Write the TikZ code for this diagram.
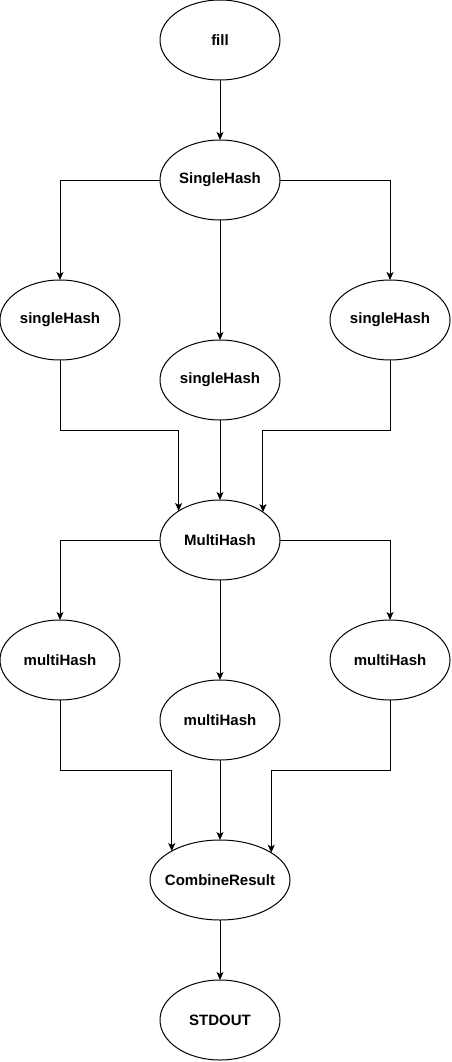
\documentclass[tikz,border=0pt]{standalone}
\usepackage{fontspec}
\setmainfont{Liberation Sans}
\usetikzlibrary{arrows.meta,shapes.geometric}
\begin{document}
\begin{tikzpicture}[x=1pt,y=1pt,
  el/.style={draw, ellipse, line width=1pt, minimum width=120pt, minimum height=80pt, inner sep=0pt, outer sep=0pt, font=\bfseries\fontsize{15}{17}\selectfont},
  arr/.style={draw, line width=1pt, -{Stealth[length=8pt,width=7pt,inset=2pt]}}]
\useasboundingbox (0,0) rectangle (452,-1062);
\node[el] (fill) at (220,-40) {fill};
\node[el] (SH) at (220,-180) {SingleHash};
\node[el] (sl) at (60,-320) {singleHash};
\node[el] (sm) at (220,-380) {singleHash};
\node[el] (sr) at (390,-320) {singleHash};
\node[el] (MH) at (220,-540) {MultiHash};
\node[el] (ml) at (60,-660) {multiHash};
\node[el] (mm) at (220,-720) {multiHash};
\node[el] (mr) at (390,-660) {multiHash};
\node[el, minimum width=140pt] (CR) at (220,-880) {\makebox[0pt]{CombineResult}};
\node[el] (SO) at (220,-1020) {STDOUT};
\draw[arr] (fill) -- (SH);
\draw[arr] (SH.west) -| (sl.north);
\draw[arr] (SH.east) -| (sr.north);
\draw[arr] (SH) -- (sm);
\draw[arr] (sl.south) -- ++(0,-70) -| (MH.145.7);
\draw[arr] (sr.south) -- ++(0,-70) -| (MH.33);
\draw[arr] (sm) -- (MH);
\draw[arr] (MH.west) -| (ml.north);
\draw[arr] (MH.east) -| (mr.north);
\draw[arr] (MH) -- (mm);
\draw[arr] (ml.south) -- ++(0,-70) -| (CR.149.7);
\draw[arr] (mr.south) -- ++(0,-70) -| (CR.28.2);
\draw[arr] (mm) -- (CR);
\draw[arr] (CR) -- (SO);
\end{tikzpicture}
\end{document}
